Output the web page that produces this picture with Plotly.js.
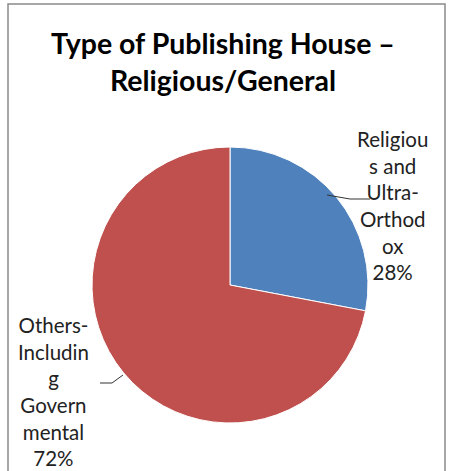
<!DOCTYPE html>
<html>
<head>
<meta charset="utf-8">
<script src="https://cdn.plot.ly/plotly-3.0.1.min.js"></script>
<style>html,body{margin:0;padding:0;background:#fff;}#chart{width:449px;height:471px;}</style>
</head>
<body>
<div id="chart"></div>
<script>
const categories = ["Religious and Ultra-Orthodox", "Others-Including Governmental"];
const values = [28, 72];
const wrappedLabels = ["Religiou<br>s and<br>Ultra-<br>Orthod<br>ox", "Others-<br>Includin<br>g<br>Govern<br>mental"];
const colors = ["#4F81BD", "#C0504D"];
const titleText = "<b>Type of Publishing House –<br>Religious/General</b>";

const W = 449, H = 471;
const px = x => x / W;
const py = y => 1 - y / H;

const total = values.reduce((a, b) => a + b, 0);
const pct = values.map(v => Math.round(v / total * 100) + "%");

const trace = {
  type: "pie",
  labels: categories,
  values: values,
  sort: false,
  direction: "clockwise",
  rotation: 0,
  textinfo: "none",
  hoverinfo: "label+percent",
  marker: { colors: colors, line: { color: "#ffffff", width: 1 } },
  domain: { x: [px(92), px(368)], y: [py(423), py(147)] },
  showlegend: false
};

const labelPos = [
  { x: 392, y: 205 },
  { x: 53, y: 391 }
];

const annotations = categories.map((c, i) => ({
  text: wrappedLabels[i] + "<br>" + pct[i],
  xref: "paper", yref: "paper",
  x: px(labelPos[i].x), y: py(labelPos[i].y),
  xanchor: "center", yanchor: "middle",
  showarrow: false, align: "center",
  font: { family: "Lato, 'Open Sans', sans-serif", size: 20.5, color: "#222" }
}));

annotations.push({
  text: titleText,
  xref: "paper", yref: "paper",
  x: px(223), y: py(62),
  xanchor: "center", yanchor: "middle",
  showarrow: false, align: "center",
  font: { family: "Lato, 'Open Sans', sans-serif", size: 28.5, color: "#000" }
});

const leader = (pts) => ({
  type: "path", xref: "paper", yref: "paper",
  path: pts.map((p, i) => (i ? "L" : "M") + px(p[0]) + "," + py(p[1])).join(" "),
  line: { color: "#333", width: 1 }
});

const layout = {
  width: W, height: H,
  margin: { l: 0, r: 0, t: 0, b: 0 },
  paper_bgcolor: "#ffffff",
  annotations: annotations,
  shapes: [
    { type: "rect", xref: "paper", yref: "paper", x0: px(8), x1: px(445), y0: -0.05, y1: py(4),
      line: { color: "#8a8a8a", width: 1.5 }, fillcolor: "rgba(0,0,0,0)" },
    leader([[327, 195], [350, 199], [370, 199]]),
    leader([[123, 375], [112, 383], [100, 383]])
  ]
};

Plotly.newPlot("chart", [trace], layout, { displayModeBar: false, staticPlot: true });
</script>
</body>
</html>
